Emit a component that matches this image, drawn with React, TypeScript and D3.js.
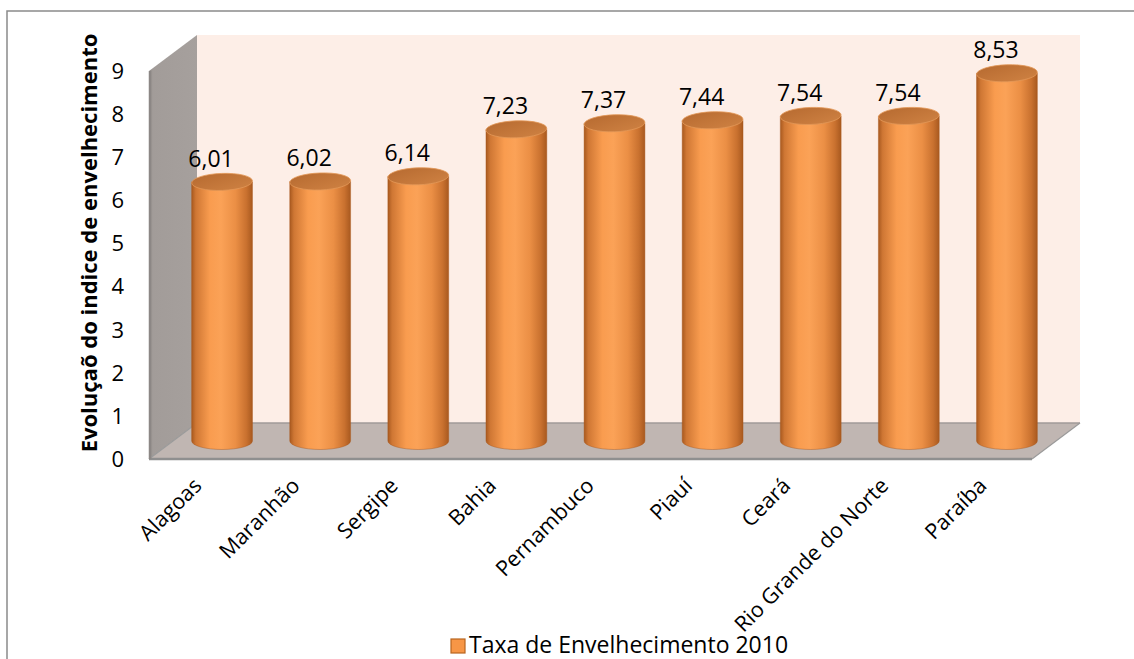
import React from "react";
import * as d3 from "d3";

const categories = ["Alagoas", "Maranhão", "Sergipe", "Bahia", "Pernambuco", "Piauí", "Ceará", "Rio Grande do Norte", "Paraíba"];
const values = [6.01, 6.02, 6.14, 7.23, 7.37, 7.44, 7.54, 7.54, 8.53];
const valueLabels = ["6,01", "6,02", "6,14", "7,23", "7,37", "7,44", "7,54", "7,54", "8,53"];
const yTicks = [0, 1, 2, 3, 4, 5, 6, 7, 8, 9];
const seriesName = "Taxa de Envelhecimento 2010";
const yTitle = "Evoluçaõ do indice de envelhecimento";

const W = 1134;
const H = 659;
const FONT = "'Open Sans', 'DejaVu Sans', sans-serif";

export default function App() {
  // front plane
  const x = d3.scaleBand<string>().domain(categories).range([149, 1032]).paddingInner(0).paddingOuter(0);
  const yFront = d3.scaleLinear().domain([0, 9]).range([459, 71]);
  const DX = 48;
  const DY = -36;
  // bars at mid depth
  const yBar = (v: number) => yFront(v) + DY / 2;
  const cxOf = (c: string) => (x(c) as number) + x.bandwidth() / 2 + DX / 2;
  const rx = x.bandwidth() * 0.31;
  const ry = 8.5;

  const x0 = 149, x1 = 1032;
  const yb = yFront(0), yt = yFront(9);

  return (
    <svg width={W} height={H} style={{ position: "absolute", left: 0, top: 0 }} fontFamily={FONT}>
      <defs>
        <linearGradient id="cyl" x1="0" x2="1" y1="0" y2="0">
          <stop offset="0%" stopColor="#a8591f" />
          <stop offset="7%" stopColor="#cf7734" />
          <stop offset="30%" stopColor="#f99c4f" />
          <stop offset="48%" stopColor="#fba257" />
          <stop offset="72%" stopColor="#eb8f45" />
          <stop offset="90%" stopColor="#c9712f" />
          <stop offset="100%" stopColor="#a8591f" />
        </linearGradient>
        <linearGradient id="cap" x1="0" x2="1" y1="0" y2="1">
          <stop offset="0%" stopColor="#b66a30" />
          <stop offset="100%" stopColor="#cf8243" />
        </linearGradient>
        <linearGradient id="lwall" x1="0" x2="1" y1="0" y2="0">
          <stop offset="0%" stopColor="#8f8a87" />
          <stop offset="8%" stopColor="#a29c99" />
          <stop offset="100%" stopColor="#a6a09d" />
        </linearGradient>
      </defs>
      <rect x={7} y={11} width={1300} height={800} fill="#fff" stroke="#8a8a8a" strokeWidth={1.5} />

      {/* back wall */}
      <polygon
        points={`${x0 + DX},${yt + DY} ${x1 + DX},${yt + DY} ${x1 + DX},${yb + DY} ${x0 + DX},${yb + DY}`}
        fill="#fdeee7"
      />
      {/* left wall */}
      <polygon
        points={`${x0},${yt} ${x0 + DX},${yt + DY} ${x0 + DX},${yb + DY} ${x0},${yb}`}
        fill="url(#lwall)"
      />
      {/* floor */}
      <polygon
        points={`${x0},${yb} ${x0 + DX},${yb + DY} ${x1 + DX},${yb + DY} ${x1},${yb}`}
        fill="#c0b6b2"
      />
      <line x1={x0 + DX} x2={x1 + DX} y1={yb + DY} y2={yb + DY} stroke="#a09a98" strokeWidth={1.5} />
      <line x1={x1} y1={yb} x2={x1 + DX} y2={yb + DY} stroke="#9a9a9a" strokeWidth={1.2} />
      <line x1={x0} y1={yb} x2={x0 + DX} y2={yb + DY} stroke="#9a9a9a" strokeWidth={1.2} />
      <line x1={x0} x2={x1} y1={yb} y2={yb} stroke="#8f8f8f" strokeWidth={2.5} />
      <line x1={x0 + 1} x2={x0 + 1} y1={yt} y2={yb} stroke="#8c8785" strokeWidth={2.5} />

      {/* cylinders */}
      {categories.map((c, i) => {
        const cx = cxOf(c);
        const yTop = yBar(values[i]);
        const yBase = yBar(0);
        const d = `M${cx - rx},${yTop} L${cx - rx},${yBase} A${rx},${ry} 0 0 0 ${cx + rx},${yBase} L${cx + rx},${yTop} Z`;
        return (
          <g key={c}>
            <path d={d} fill="url(#cyl)" stroke="#a9581c" strokeOpacity={0.55} strokeWidth={0.8} />
            <ellipse
              cx={cx}
              cy={yTop}
              rx={rx}
              ry={ry}
              fill="url(#cap)"
              stroke="#e39858"
              strokeWidth={0.8}
              transform={`rotate(-2 ${cx} ${yTop})`}
            />
            <text x={cx - 11} y={yTop - 15} textAnchor="middle" fontSize={23} fill="#000">
              {valueLabels[i]}
            </text>
          </g>
        );
      })}

      {/* y ticks */}
      {yTicks.map((t) => (
        <text key={t} x={124} y={yFront(t)} dy="0.36em" textAnchor="end" fontSize={22} fill="#000">
          {t}
        </text>
      ))}

      {/* y title */}
      <text
        transform={`translate(97,243) rotate(-90)`}
        textAnchor="middle"
        fontSize={22}
        fontWeight="bold"
        fill="#000"
      >
        {yTitle}
      </text>

      {/* category labels */}
      {categories.map((c) => {
        const ax = cxOf(c) - 19;
        const ay = 487;
        return (
          <text key={c} transform={`translate(${ax},${ay}) rotate(-45)`} textAnchor="end" fontSize={21.5} fill="#000">
            {c}
          </text>
        );
      })}

      {/* legend */}
      <rect x={451} y={639} width={14} height={14} fill="#f79646" stroke="#b8651f" strokeWidth={1.2} />
      <text x={469} y={653} fontSize={23} fill="#000">
        {seriesName}
      </text>
    </svg>
  );
}
